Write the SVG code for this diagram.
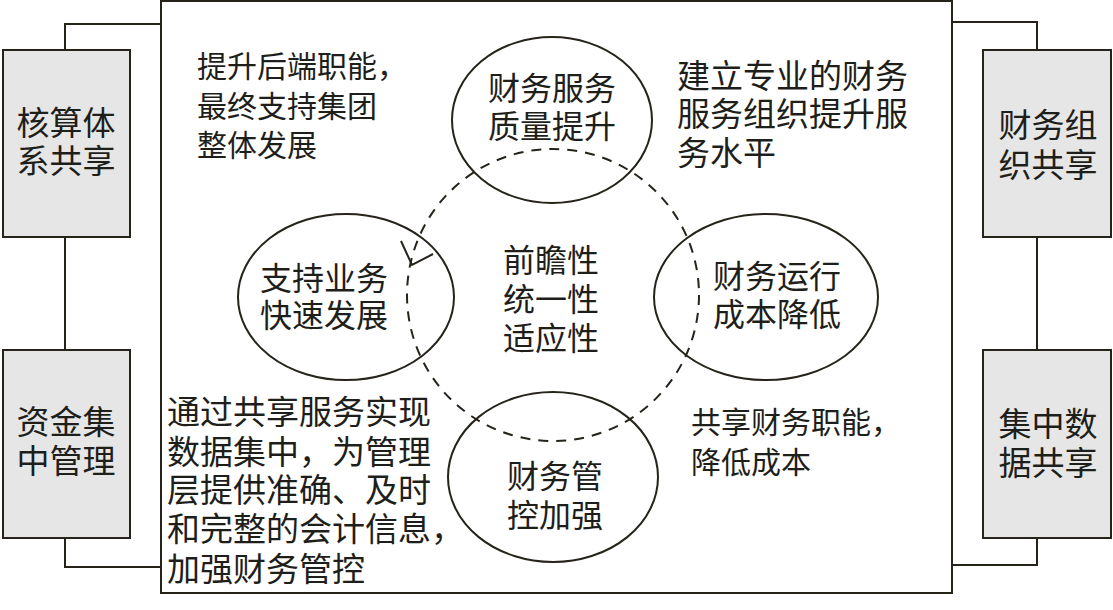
<svg xmlns="http://www.w3.org/2000/svg" width="1113" height="610" viewBox="0 0 1113 610">
<style>
.ln{fill:none;stroke:#25231a;stroke-width:2}
.box{fill:#e6e6e6;stroke:#25231a;stroke-width:2}
.ell{fill:none;stroke:#25231a;stroke-width:2}
.dash{fill:none;stroke:#25231a;stroke-width:2;stroke-dasharray:10 8}
text{font-family:"Liberation Sans","Noto Sans CJK SC","Noto Sans CJK JP",sans-serif;fill:#1e1e1a}
.c{text-anchor:middle}
.t32{font-size:32px}
.t30{font-size:30px}
.t33{font-size:33px}
</style>
<rect width="1113" height="610" fill="#ffffff"/>
<g id="connectors">
<polyline class="ln" points="65,50 65,24 161,24"/>
<line class="ln" x1="65" y1="237" x2="65" y2="350"/>
<polyline class="ln" points="65,538 65,567 161,567"/>
<polyline class="ln" points="1037,50 1037,22 952,22"/>
<line class="ln" x1="1037" y1="237" x2="1037" y2="350"/>
<polyline class="ln" points="1037,538 1037,565 952,565"/>
</g>
<g id="main-frame">
<rect class="ln" x="161" y="1" width="791" height="592"/>
</g>
<g id="cycle">
<circle class="dash" cx="553" cy="295" r="146"/>
<polyline class="ln" points="401,241 412,265 433,254"/>
</g>
<g id="box-hesuan">
<rect class="box" x="3" y="50" width="127" height="187"/>
<text class="c t33" x="66" y="135">核算体</text>
<text class="c t33" x="66" y="173">系共享</text>
</g>
<g id="box-zijin">
<rect class="box" x="3" y="350" width="127" height="188"/>
<text class="c t33" x="66" y="434">资金集</text>
<text class="c t33" x="66" y="473">中管理</text>
</g>
<g id="box-zuzhi">
<rect class="box" x="983" y="50" width="128" height="187"/>
<text class="c t33" x="1048" y="137">财务组</text>
<text class="c t33" x="1048" y="177">织共享</text>
</g>
<g id="box-shuju">
<rect class="box" x="983" y="350" width="128" height="188"/>
<text class="c t33" x="1048" y="436">集中数</text>
<text class="c t33" x="1048" y="475">据共享</text>
</g>
<g id="ell-top">
<ellipse class="ell" cx="552" cy="120" rx="100" ry="83"/>
<text class="c t32" x="552" y="100">财务服务</text>
<text class="c t32" x="552" y="138">质量提升</text>
</g>
<g id="ell-left">
<ellipse class="ell" cx="346" cy="297" rx="108" ry="83"/>
<text class="c t32" x="324" y="290">支持业务</text>
<text class="c t32" x="324" y="327">快速发展</text>
</g>
<g id="ell-right">
<ellipse class="ell" cx="766" cy="297" rx="112" ry="83"/>
<text class="c t32" x="777" y="288">财务运行</text>
<text class="c t32" x="777" y="326">成本降低</text>
</g>
<g id="ell-bottom">
<ellipse class="ell" cx="553" cy="477" rx="105" ry="85"/>
<text class="c t32" x="555" y="488">财务管</text>
<text class="c t32" x="555" y="527">控加强</text>
</g>
<g id="center-text">
<text class="c t32" x="551" y="272">前瞻性</text>
<text class="c t32" x="551" y="311">统一性</text>
<text class="c t32" x="551" y="350">适应性</text>
</g>
<g id="note-tl">
<text class="t30" x="197" y="77">提升后端职能，</text>
<text class="t30" x="197" y="117">最终支持集团</text>
<text class="t30" x="197" y="156">整体发展</text>
</g>
<g id="note-tr">
<text class="t33" x="677" y="88">建立专业的财务</text>
<text class="t33" x="677" y="126">服务组织提升服</text>
<text class="t33" x="677" y="165">务水平</text>
</g>
<g id="note-bl">
<text class="t33" x="167" y="424">通过共享服务实现</text>
<text class="t33" x="167" y="464">数据集中，为管理</text>
<text class="t33" x="167" y="502">层提供准确、及时</text>
<text class="t33" x="167" y="541">和完整的会计信息，</text>
<text class="t33" x="167" y="581">加强财务管控</text>
</g>
<g id="note-br">
<text class="t30" x="691" y="433">共享财务职能，</text>
<text class="t30" x="691" y="473">降低成本</text>
</g>
</svg>
